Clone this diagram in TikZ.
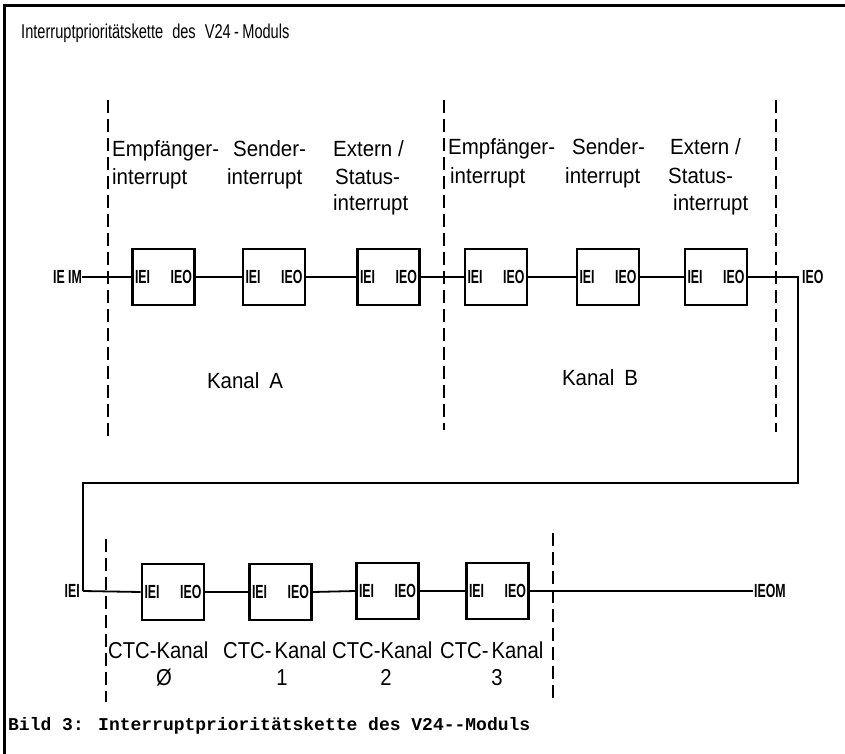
\documentclass[tikz,border=0pt]{standalone}
\usepackage{fontspec}
\setmainfont{Liberation Sans}
\newfontfamily\plotfont{Liberation Sans}[FakeStretch=0.93]
\newfontfamily\ctcfont{Liberation Sans}[FakeStretch=0.88]
\newfontfamily\titlefont{Liberation Sans}[FakeStretch=0.73]
\newfontfamily\boxfont{Liberation Sans}[FakeStretch=0.65]
\newfontfamily\capfont{Liberation Mono}
\begin{document}
\begin{tikzpicture}[x=1pt,y=-1pt,
  frameline/.style={line width=3pt},
  wire/.style={line width=1.8pt},
  sep/.style={line width=1.8pt, dash pattern=on 13pt off 6pt},
  ieibox/.style={draw, line width=2.6pt, minimum width=62pt, minimum height=56pt,
     inner sep=0pt, font=\boxfont\bfseries\fontsize{19}{19}\selectfont},
  hdr/.style={inner sep=0pt, anchor=base west, font=\plotfont\fontsize{22}{22}\selectfont},
  sig/.style={inner sep=0pt, font=\boxfont\bfseries\fontsize{19}{19}\selectfont},
  kanal/.style={inner sep=0pt, font=\plotfont\fontsize{22}{22}\selectfont},
  ctc/.style={inner sep=0pt, anchor=base west, font=\ctcfont\fontsize{23}{23}\selectfont},
  num/.style={inner sep=0pt, anchor=base, font=\ctcfont\fontsize{23}{23}\selectfont}]
\useasboundingbox (0,0) rectangle (845,754);
% frame
\draw[frameline] (4,754) -- (4,5.5) -- (845,5.5);
% title
\node[inner sep=0pt, anchor=base west, font=\titlefont\fontsize{20}{20}\selectfont] (title) at (21,39) {Interruptprioritätskette\hspace{5pt} des\hspace{5pt} V24\,-\,Moduls};
% separators row 1
\draw[sep] (108,100) -- (108,437);
\draw[sep] (444,100) -- (444,430);
\draw[sep] (776,100) -- (776,432);
% headers Kanal A
\node[hdr] (ha1) at (112,157) {Empfänger-};
\node[hdr] (ha1b) at (112,184) {interrupt};
\node[hdr] (ha2) at (233,157) {Sender-};
\node[hdr] (ha2b) at (227,184) {interrupt};
\node[hdr] (ha3) at (333,157) {Extern /};
\node[hdr] (ha3b) at (335,184) {Status-};
\node[hdr] (ha3c) at (333,210) {interrupt};
% headers Kanal B
\node[hdr] (hb1) at (448,155) {Empfänger-};
\node[hdr] (hb1b) at (450,183) {interrupt};
\node[hdr] (hb2) at (572,155) {Sender-};
\node[hdr] (hb2b) at (565,183) {interrupt};
\node[hdr] (hb3) at (670,155) {Extern /};
\node[hdr] (hb3b) at (668,183) {Status-};
\node[hdr] (hb3c) at (673,210) {interrupt};
% boxes row 1
\node[ieibox] (A1) at (163.5,277) {\makebox[57pt][s]{IEI\hfill IEO}};
\node[ieibox] (A2) at (274,277) {\makebox[57pt][s]{IEI\hfill IEO}};
\node[ieibox] (A3) at (388.5,277) {\makebox[57pt][s]{IEI\hfill IEO}};
\node[ieibox] (B1) at (496,277) {\makebox[57pt][s]{IEI\hfill IEO}};
\node[ieibox] (B2) at (608,277) {\makebox[57pt][s]{IEI\hfill IEO}};
\node[ieibox] (B3) at (716,277) {\makebox[57pt][s]{IEI\hfill IEO}};
\node[sig, anchor=east] (ieim) at (82,277) {IE\,IM};
\node[sig, anchor=west] (ieo) at (802,277) {IEO};
\coordinate (r1) at (798,277);
\coordinate (r2) at (798,483);
\coordinate (l1) at (83,483);
\coordinate (l2) at (83,591);
\draw[wire] (ieim.east) -- (A1.west);
\draw[wire] (A1.east) -- (A2.west);
\draw[wire] (A2.east) -- (A3.west);
\draw[wire] (A3.east) -- (B1.west);
\draw[wire] (B1.east) -- (B2.west);
\draw[wire] (B2.east) -- (B3.west);
\draw[wire] (B3.east) -- (r1) -- (r2) -- (l1) -- (l2);
\node[kanal] (ka) at (245,381) {Kanal\hspace{10pt}A};
\node[kanal] (kb) at (600,378) {Kanal\hspace{10pt}B};
% row 2
\draw[sep] (106,539) -- (106,702);
\draw[sep] (553,533) -- (553,702);
\node[ieibox] (C1) at (173,592) {\makebox[57pt][s]{IEI\hfill IEO}};
\node[ieibox] (C2) at (280.5,592) {\makebox[57pt][s]{IEI\hfill IEO}};
\node[ieibox] (C3) at (387.5,591) {\makebox[57pt][s]{IEI\hfill IEO}};
\node[ieibox] (C4) at (497.5,591) {\makebox[57pt][s]{IEI\hfill IEO}};
\node[sig, anchor=east] (iei) at (80,591) {IEI};
\node[sig, anchor=west] (ieom) at (754,591) {IEOM};
\coordinate (e1) at (753,591);
\draw[wire] (l2) -- (C1.west);
\draw[wire] (C1.east) -- (C2.west);
\draw[wire] (C2.east) -- (C3.west);
\draw[wire] (C3.east) -- (C4.west);
\draw[wire] (C4.east) -- (e1);
\node[ctc] (c1) at (108,658) {CTC-Kanal};
\node[ctc] (c2) at (223,658) {CTC-\hspace{3pt}Kanal};
\node[ctc] (c3) at (332,658) {CTC-Kanal};
\node[ctc] (c4) at (440,658) {CTC-\hspace{3pt}Kanal};
\node[num] (n0) at (164,685) {Ø};
\node[num] (n1) at (282,685) {1};
\node[num] (n2) at (386,685) {2};
\node[num] (n3) at (497,685) {3};
% caption
\node[inner sep=0pt, anchor=base west, font=\capfont\bfseries\fontsize{18}{18}\selectfont] (cap) at (8,730) {Bild 3: Interruptprioritätskette des V24-{}-Moduls};
\end{tikzpicture}
\end{document}
